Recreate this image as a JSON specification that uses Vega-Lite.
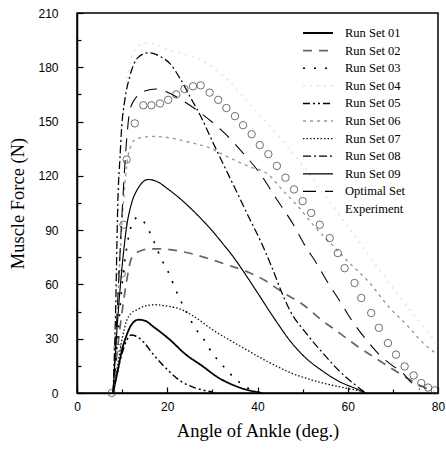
{
  "$schema": "https://vega.github.io/schema/vega-lite/v6.json",
  "width": 361,
  "height": 380,
  "autosize": {"type": "none"},
  "padding": {"left": 77, "top": 13, "right": 8, "bottom": 60},
  "background": "white",
  "config": {
    "view": {"stroke": "black", "strokeWidth": 1.5},
    "axis": {"domainColor": "black", "domainWidth": 1.5, "tickColor": "black", "tickWidth": 1.2, "grid": false,
      "labelFont": "Liberation Sans", "labelFontSize": 12, "labelColor": "black",
      "titleFont": "Liberation Serif", "titleFontSize": 18.5, "titleFontWeight": "normal", "titleColor": "black"}
  },
  "data": {"values": [
    {"s":"Run Set 01","x":8,"y":0},{"s":"Run Set 01","x":9,"y":12},{"s":"Run Set 01","x":10,"y":24},{"s":"Run Set 01","x":11,"y":32},{"s":"Run Set 01","x":12,"y":37.5},{"s":"Run Set 01","x":13.6,"y":40.5},{"s":"Run Set 01","x":15,"y":40},{"s":"Run Set 01","x":17,"y":36.5},{"s":"Run Set 01","x":20.6,"y":29.4},{"s":"Run Set 01","x":24,"y":21.5},{"s":"Run Set 01","x":27.9,"y":14.7},{"s":"Run Set 01","x":31,"y":9},{"s":"Run Set 01","x":35,"y":4},{"s":"Run Set 01","x":38,"y":1.5},{"s":"Run Set 01","x":40,"y":0.5},{"s":"Run Set 01","x":41,"y":0},
    {"s":"Run Set 02","x":8,"y":0},{"s":"Run Set 02","x":9,"y":25},{"s":"Run Set 02","x":10,"y":45},{"s":"Run Set 02","x":11,"y":62},{"s":"Run Set 02","x":12.1,"y":74.6},{"s":"Run Set 02","x":14,"y":78.5},{"s":"Run Set 02","x":16.2,"y":79.6},{"s":"Run Set 02","x":18.5,"y":79.6},{"s":"Run Set 02","x":20.6,"y":79.2},{"s":"Run Set 02","x":24.5,"y":77.5},{"s":"Run Set 02","x":28.7,"y":74.6},{"s":"Run Set 02","x":33.1,"y":71},{"s":"Run Set 02","x":37.5,"y":67.2},{"s":"Run Set 02","x":41.4,"y":62.6},{"s":"Run Set 02","x":45.3,"y":56.1},{"s":"Run Set 02","x":50.1,"y":48.8},{"s":"Run Set 02","x":54.1,"y":40.5},{"s":"Run Set 02","x":58.2,"y":33.1},{"s":"Run Set 02","x":62.2,"y":25.7},{"s":"Run Set 02","x":66.7,"y":18.4},{"s":"Run Set 02","x":70.7,"y":12},{"s":"Run Set 02","x":74,"y":7},{"s":"Run Set 02","x":77,"y":3},{"s":"Run Set 02","x":79,"y":1},
    {"s":"Run Set 03","x":8,"y":0},{"s":"Run Set 03","x":9,"y":30},{"s":"Run Set 03","x":10,"y":60},{"s":"Run Set 03","x":11,"y":80},{"s":"Run Set 03","x":12,"y":92},{"s":"Run Set 03","x":13.4,"y":97},{"s":"Run Set 03","x":15,"y":94},{"s":"Run Set 03","x":17,"y":84},{"s":"Run Set 03","x":18.7,"y":74},{"s":"Run Set 03","x":20.2,"y":67},{"s":"Run Set 03","x":22.4,"y":54},{"s":"Run Set 03","x":24,"y":46},{"s":"Run Set 03","x":26.3,"y":35.5},{"s":"Run Set 03","x":28,"y":30},{"s":"Run Set 03","x":30,"y":22},{"s":"Run Set 03","x":32,"y":16},{"s":"Run Set 03","x":34,"y":10.5},{"s":"Run Set 03","x":36,"y":5.9},{"s":"Run Set 03","x":38,"y":2.5},{"s":"Run Set 03","x":40,"y":0.5},
    {"s":"Run Set 04","x":8,"y":0},{"s":"Run Set 04","x":8.7,"y":60},{"s":"Run Set 04","x":9.3,"y":110},{"s":"Run Set 04","x":10,"y":145},{"s":"Run Set 04","x":11,"y":170},{"s":"Run Set 04","x":11.7,"y":182},{"s":"Run Set 04","x":13,"y":190},{"s":"Run Set 04","x":14.5,"y":193},{"s":"Run Set 04","x":16,"y":193.5},{"s":"Run Set 04","x":18,"y":192},{"s":"Run Set 04","x":20,"y":190},{"s":"Run Set 04","x":24,"y":187},{"s":"Run Set 04","x":27.6,"y":184},{"s":"Run Set 04","x":30.2,"y":179.6},{"s":"Run Set 04","x":33.8,"y":172},{"s":"Run Set 04","x":37.2,"y":162.4},{"s":"Run Set 04","x":40,"y":155},{"s":"Run Set 04","x":45,"y":141},{"s":"Run Set 04","x":50,"y":126},{"s":"Run Set 04","x":55,"y":109},{"s":"Run Set 04","x":60,"y":92},{"s":"Run Set 04","x":65,"y":75},{"s":"Run Set 04","x":70,"y":58},{"s":"Run Set 04","x":75,"y":42},{"s":"Run Set 04","x":80,"y":27},
    {"s":"Run Set 05","x":8,"y":0},{"s":"Run Set 05","x":9,"y":12},{"s":"Run Set 05","x":10,"y":22},{"s":"Run Set 05","x":11,"y":29},{"s":"Run Set 05","x":12,"y":32},{"s":"Run Set 05","x":13,"y":31.5},{"s":"Run Set 05","x":14.8,"y":28},{"s":"Run Set 05","x":17,"y":21},{"s":"Run Set 05","x":20,"y":13},{"s":"Run Set 05","x":23,"y":6.5},{"s":"Run Set 05","x":26,"y":3},{"s":"Run Set 05","x":30,"y":0.5},
    {"s":"Run Set 06","x":8,"y":0},{"s":"Run Set 06","x":9,"y":50},{"s":"Run Set 06","x":10,"y":95},{"s":"Run Set 06","x":11,"y":125},{"s":"Run Set 06","x":11.7,"y":135},{"s":"Run Set 06","x":13.2,"y":140.5},{"s":"Run Set 06","x":16.9,"y":141.8},{"s":"Run Set 06","x":20.6,"y":141},{"s":"Run Set 06","x":24.2,"y":139},{"s":"Run Set 06","x":29.4,"y":135.4},{"s":"Run Set 06","x":33.8,"y":130},{"s":"Run Set 06","x":38.3,"y":125},{"s":"Run Set 06","x":42,"y":121.5},{"s":"Run Set 06","x":45.6,"y":112},{"s":"Run Set 06","x":49,"y":103},{"s":"Run Set 06","x":53,"y":91},{"s":"Run Set 06","x":56.5,"y":82},{"s":"Run Set 06","x":59.5,"y":74},{"s":"Run Set 06","x":64.8,"y":61},{"s":"Run Set 06","x":69.3,"y":47},{"s":"Run Set 06","x":73.3,"y":37},{"s":"Run Set 06","x":77,"y":27},{"s":"Run Set 06","x":79.5,"y":22},
    {"s":"Run Set 07","x":8,"y":0},{"s":"Run Set 07","x":9,"y":15},{"s":"Run Set 07","x":10,"y":30},{"s":"Run Set 07","x":11,"y":40},{"s":"Run Set 07","x":12,"y":44},{"s":"Run Set 07","x":13.3,"y":46},{"s":"Run Set 07","x":15,"y":48},{"s":"Run Set 07","x":17.3,"y":48.8},{"s":"Run Set 07","x":20,"y":48},{"s":"Run Set 07","x":22.1,"y":47},{"s":"Run Set 07","x":25.8,"y":42.5},{"s":"Run Set 07","x":30,"y":35},{"s":"Run Set 07","x":34,"y":29},{"s":"Run Set 07","x":37.5,"y":24},{"s":"Run Set 07","x":41,"y":19},{"s":"Run Set 07","x":44.9,"y":14},{"s":"Run Set 07","x":48,"y":10.5},{"s":"Run Set 07","x":51,"y":8},{"s":"Run Set 07","x":54.5,"y":5.5},{"s":"Run Set 07","x":58,"y":3.5},{"s":"Run Set 07","x":62,"y":1.5},{"s":"Run Set 07","x":64,"y":0.5},
    {"s":"Run Set 08","x":8,"y":0},{"s":"Run Set 08","x":8.5,"y":40},{"s":"Run Set 08","x":9.1,"y":110},{"s":"Run Set 08","x":9.5,"y":129},{"s":"Run Set 08","x":9.9,"y":147},{"s":"Run Set 08","x":10.6,"y":162},{"s":"Run Set 08","x":11.7,"y":175},{"s":"Run Set 08","x":13.6,"y":185.6},{"s":"Run Set 08","x":15.8,"y":188},{"s":"Run Set 08","x":18.4,"y":186},{"s":"Run Set 08","x":20.6,"y":182},{"s":"Run Set 08","x":22.8,"y":174},{"s":"Run Set 08","x":25,"y":164},{"s":"Run Set 08","x":27.6,"y":152},{"s":"Run Set 08","x":30.2,"y":138},{"s":"Run Set 08","x":33.1,"y":123},{"s":"Run Set 08","x":36,"y":108},{"s":"Run Set 08","x":38.3,"y":96},{"s":"Run Set 08","x":40.5,"y":85},{"s":"Run Set 08","x":43.1,"y":70},{"s":"Run Set 08","x":45.3,"y":56},{"s":"Run Set 08","x":47.1,"y":46},{"s":"Run Set 08","x":50.8,"y":33},{"s":"Run Set 08","x":54.5,"y":22},{"s":"Run Set 08","x":58.2,"y":12},{"s":"Run Set 08","x":61.9,"y":4},{"s":"Run Set 08","x":64,"y":0},
    {"s":"Run Set 09","x":8,"y":0},{"s":"Run Set 09","x":9,"y":40},{"s":"Run Set 09","x":10,"y":70},{"s":"Run Set 09","x":11,"y":92},{"s":"Run Set 09","x":12,"y":104},{"s":"Run Set 09","x":13.5,"y":113},{"s":"Run Set 09","x":15.8,"y":118},{"s":"Run Set 09","x":18,"y":116.5},{"s":"Run Set 09","x":20,"y":113},{"s":"Run Set 09","x":22.8,"y":107.5},{"s":"Run Set 09","x":25,"y":102.5},{"s":"Run Set 09","x":28,"y":95},{"s":"Run Set 09","x":30,"y":89.5},{"s":"Run Set 09","x":32,"y":83.5},{"s":"Run Set 09","x":35,"y":74},{"s":"Run Set 09","x":38,"y":63},{"s":"Run Set 09","x":40.5,"y":53.5},{"s":"Run Set 09","x":42.7,"y":45},{"s":"Run Set 09","x":45,"y":36.5},{"s":"Run Set 09","x":47,"y":29.5},{"s":"Run Set 09","x":50,"y":21},{"s":"Run Set 09","x":54.5,"y":12},{"s":"Run Set 09","x":58,"y":6.5},{"s":"Run Set 09","x":62,"y":2.2},{"s":"Run Set 09","x":64,"y":0},
    {"s":"Optimal Set","x":8,"y":0},{"s":"Optimal Set","x":9,"y":50},{"s":"Optimal Set","x":10,"y":100},{"s":"Optimal Set","x":11,"y":140},{"s":"Optimal Set","x":11.7,"y":156},{"s":"Optimal Set","x":13,"y":163},{"s":"Optimal Set","x":15.2,"y":167},{"s":"Optimal Set","x":17.5,"y":168},{"s":"Optimal Set","x":19.8,"y":166.5},{"s":"Optimal Set","x":23.8,"y":161},{"s":"Optimal Set","x":28.3,"y":153},{"s":"Optimal Set","x":32.7,"y":143.6},{"s":"Optimal Set","x":36.8,"y":132.6},{"s":"Optimal Set","x":40.5,"y":121.5},{"s":"Optimal Set","x":44,"y":108},{"s":"Optimal Set","x":48.2,"y":92},{"s":"Optimal Set","x":50.4,"y":82},{"s":"Optimal Set","x":53,"y":72},{"s":"Optimal Set","x":55.6,"y":61},{"s":"Optimal Set","x":58.2,"y":51},{"s":"Optimal Set","x":60.8,"y":40.5},{"s":"Optimal Set","x":64.1,"y":29.4},{"s":"Optimal Set","x":67.4,"y":20.2},{"s":"Optimal Set","x":70,"y":15},{"s":"Optimal Set","x":72.2,"y":11},{"s":"Optimal Set","x":74,"y":6},{"s":"Optimal Set","x":76,"y":2},
    {"s":"Experiment","x":7.7,"y":0},{"s":"Experiment","x":9,"y":25},{"s":"Experiment","x":9.9,"y":66},{"s":"Experiment","x":10.3,"y":93},{"s":"Experiment","x":11,"y":129},{"s":"Experiment","x":12.8,"y":149},{"s":"Experiment","x":14.7,"y":159},{"s":"Experiment","x":16.5,"y":159},{"s":"Experiment","x":18.4,"y":160},{"s":"Experiment","x":20.2,"y":162},{"s":"Experiment","x":22,"y":165},{"s":"Experiment","x":23.8,"y":168},{"s":"Experiment","x":25.7,"y":169.5},{"s":"Experiment","x":27.4,"y":170},{"s":"Experiment","x":29.4,"y":166},{"s":"Experiment","x":31.3,"y":162},{"s":"Experiment","x":33.1,"y":157.5},{"s":"Experiment","x":35,"y":153},{"s":"Experiment","x":36.8,"y":148},{"s":"Experiment","x":38.7,"y":143},{"s":"Experiment","x":40.5,"y":137},{"s":"Experiment","x":42.4,"y":132},{"s":"Experiment","x":44.3,"y":125.5},{"s":"Experiment","x":46.2,"y":119},{"s":"Experiment","x":48.1,"y":112.5},{"s":"Experiment","x":50,"y":106},{"s":"Experiment","x":51.9,"y":99.5},{"s":"Experiment","x":53.8,"y":93},{"s":"Experiment","x":56,"y":85.6},{"s":"Experiment","x":57.8,"y":77.3},{"s":"Experiment","x":59.3,"y":69},{"s":"Experiment","x":61.5,"y":60.8},{"s":"Experiment","x":63,"y":52.5},{"s":"Experiment","x":65.2,"y":44.2},{"s":"Experiment","x":66.9,"y":36},{"s":"Experiment","x":68.9,"y":27.6},{"s":"Experiment","x":70.7,"y":21.2},{"s":"Experiment","x":72.6,"y":14.7},{"s":"Experiment","x":74.6,"y":9.7},{"s":"Experiment","x":76.3,"y":5.5},{"s":"Experiment","x":77.8,"y":3},{"s":"Experiment","x":79.3,"y":1.5}
  ]},
  "encoding": {
    "x": {"field": "x", "type": "quantitative", "scale": {"domain": [0, 80], "nice": false},
      "axis": {"title": "Angle of Ankle (deg.)", "values": [0,10,20,30,40,50,60,70,80],
        "labelExpr": "datum.value % 20 === 0 ? datum.label : ''",
        "tickSize": {"condition": {"test": "datum.value % 20 === 0", "value": -6}, "value": -4},
        "labelPadding": 14, "titlePadding": 9, "labelFlush": false}},
    "y": {"field": "y", "type": "quantitative", "scale": {"domain": [0, 210], "nice": false},
      "axis": {"title": "Muscle Force (N)", "values": [0,15,30,45,60,75,90,105,120,135,150,165,180,195,210],
        "labelExpr": "datum.value % 30 === 0 ? datum.label : ''",
        "tickSize": {"condition": {"test": "datum.value % 30 === 0", "value": -6}, "value": -4},
        "labelPadding": 25, "titlePadding": 10, "labelFlush": false}}
  },
  "layer": [
    {
      "transform": [{"filter": "datum.s !== 'Experiment'"}],
      "mark": {"type": "line", "interpolate": "monotone"},
      "encoding": {
        "detail": {"field": "s"},
        "color": {"field": "s", "type": "nominal",
          "scale": {"domain": ["Run Set 01","Run Set 02","Run Set 03","Run Set 04","Run Set 05","Run Set 06","Run Set 07","Run Set 08","Run Set 09","Optimal Set","Experiment"],
            "range": ["#000000","#666666","#000000","#e4e4e4","#000000","#9a9a9a","#111111","#000000","#000000","#000000","#ffffff"]},
          "legend": {"title": null, "orient": "none", "legendX": 234, "legendY": 13, "symbolType": "M-2.5,0H2.5", "symbolSize": 144,
            "labelFont": "Liberation Serif", "labelFontSize": 12.5, "labelColor": "black", "labelOffset": 20, "rowPadding": 3.6, "padding": 0}},
        "strokeDash": {"field": "s", "type": "nominal",
          "scale": {"domain": ["Run Set 01","Run Set 02","Run Set 03","Run Set 04","Run Set 05","Run Set 06","Run Set 07","Run Set 08","Run Set 09","Optimal Set","Experiment"],
            "range": [[1,0],[9,7],[2,9],[2,5],[7,3,2,3,2,3],[3,4],[1.5,2],[8,3,2,3],[1,0],[13,9],[1,0]]}},
        "strokeWidth": {"field": "s", "type": "nominal",
          "scale": {"domain": ["Run Set 01","Run Set 02","Run Set 03","Run Set 04","Run Set 05","Run Set 06","Run Set 07","Run Set 08","Run Set 09","Optimal Set","Experiment"],
            "range": [1.8,1,2.2,1,1.8,1,1.5,2.2,2,2.6,1]}}
      }
    },
    {
      "transform": [{"filter": "datum.s === 'Experiment'"}],
      "mark": {"type": "point", "shape": "circle", "filled": false, "size": 55, "stroke": "#333333", "strokeWidth": 1}
    }
  ]
}
